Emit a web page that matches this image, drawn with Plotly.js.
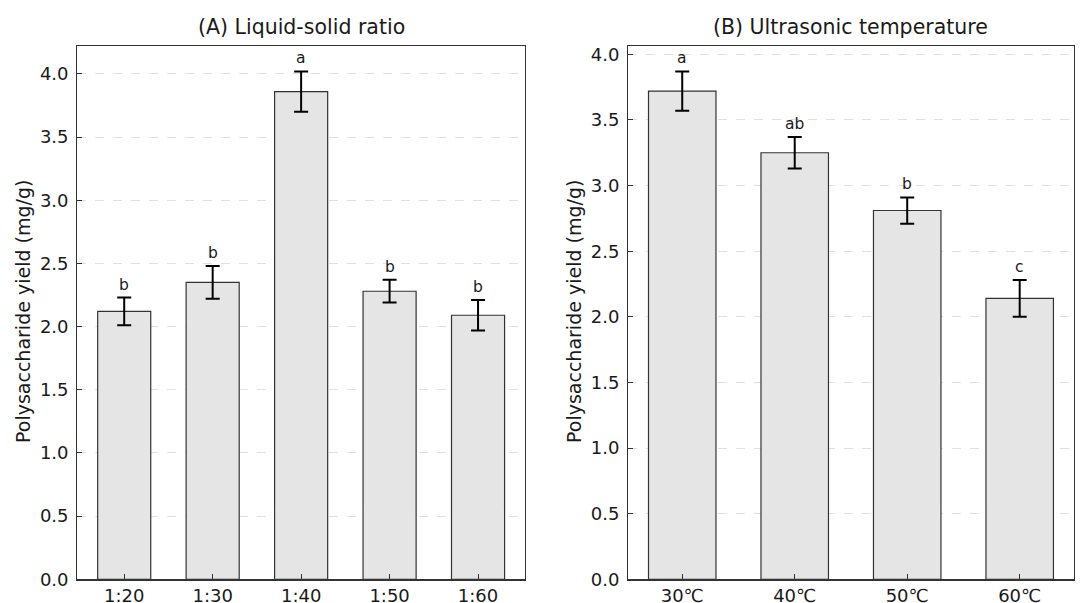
<!DOCTYPE html>
<html>
<head>
<meta charset="utf-8">
<script src="https://cdn.plot.ly/plotly-3.0.1.min.js"></script>
<style>html,body{margin:0;padding:0;background:#fff}#chart{width:1083px;height:603px}</style>
</head>
<body>
<div id="chart"></div>
<script>
const ratioCats = ["1:20", "1:30", "1:40", "1:50", "1:60"];
const ratioYield = [2.12, 2.35, 3.86, 2.28, 2.09];
const ratioErr = [0.11, 0.13, 0.16, 0.09, 0.12];
const ratioLetters = ["b", "b", "a", "b", "b"];

const tempCats = ["30℃", "40℃", "50℃", "60℃"];
const tempYield = [3.72, 3.25, 2.81, 2.14];
const tempErr = [0.15, 0.12, 0.10, 0.14];
const tempLetters = ["a", "ab", "b", "c"];

const yLabel = "Polysaccharide yield (mg/g)";
const titleA = "(A) Liquid-solid ratio";
const titleB = "(B) Ultrasonic temperature";

const FONT = "DejaVu Sans, sans-serif";
const TXT = "#1a1a1a";
const barStyle = {color: "#e5e5e5", line: {color: "#333333", width: 1.2}};
const errStyle = (arr) => ({type: "data", array: arr, visible: true, color: "#000", thickness: 2, width: 7});

const traces = [
  {type: "bar", x: ratioCats, y: ratioYield, error_y: errStyle(ratioErr), marker: barStyle, width: 0.6, xaxis: "x", yaxis: "y"},
  {type: "bar", x: tempCats, y: tempYield, error_y: errStyle(tempErr), marker: barStyle, width: 0.6, xaxis: "x2", yaxis: "y2"}
];

const ymaxA = Math.max(...ratioYield.map((v, i) => v + ratioErr[i])) * 1.05;
const ymaxB = Math.max(...tempYield.map((v, i) => v + tempErr[i])) * 1.05;

const annotations = [];
ratioCats.forEach((c, i) => annotations.push({x: c, y: ratioYield[i] + ratioErr[i], xref: "x", yref: "y", text: ratioLetters[i], showarrow: false, xanchor: "center", yanchor: "bottom", yshift: 2, font: {family: FONT, size: 15.5, color: TXT}}));
tempCats.forEach((c, i) => annotations.push({x: c, y: tempYield[i] + tempErr[i], xref: "x2", yref: "y2", text: tempLetters[i], showarrow: false, xanchor: "center", yanchor: "bottom", yshift: 2, font: {family: FONT, size: 15.5, color: TXT}}));
annotations.push({x: 0.2781, y: 1 - 27/603, xref: "paper", yref: "paper", text: titleA, showarrow: false, xanchor: "center", yanchor: "middle", font: {family: FONT, size: 20.5, color: TXT}});
annotations.push({x: 0.7857, y: 1 - 27/603, xref: "paper", yref: "paper", text: titleB, showarrow: false, xanchor: "center", yanchor: "middle", font: {family: FONT, size: 20.5, color: TXT}});
annotations.push({x: 23/1083, y: 0.5 - (312 - 301.5)/603, xref: "paper", yref: "paper", text: yLabel, textangle: -90, showarrow: false, xanchor: "center", yanchor: "middle", font: {family: FONT, size: 19, color: TXT}});
annotations.push({x: 574/1083, y: 0.5 - (312 - 301.5)/603, xref: "paper", yref: "paper", text: yLabel, textangle: -90, showarrow: false, xanchor: "center", yanchor: "middle", font: {family: FONT, size: 19, color: TXT}});

const xCommon = {
  showline: true, linecolor: "#333", linewidth: 1.2, mirror: true,
  ticks: "inside", ticklen: 5, tickwidth: 1, tickcolor: "#333",
  showgrid: false, zeroline: false, tickfont: {family: FONT, size: 18, color: TXT}, fixedrange: true
};
const yCommon = {
  showline: true, linecolor: "#333", linewidth: 1.2, mirror: true,
  ticks: "inside", ticklen: 5, tickwidth: 1, tickcolor: "#333",
  showgrid: true, gridcolor: "#e0e0e0", griddash: "dash", gridwidth: 1,
  zeroline: false, dtick: 0.5, tick0: 0, tickformat: ".1f",
  tickfont: {family: FONT, size: 18, color: TXT}, fixedrange: true, ticklabelstandoff: 4
};

const layout = {
  width: 1083, height: 603,
  margin: {l: 0, r: 0, t: 0, b: 0},
  paper_bgcolor: "#fff", plot_bgcolor: "#fff",
  showlegend: false,
  xaxis: Object.assign({}, xCommon, {domain: [0.0714, 0.4847], anchor: "y", range: [-0.53, 4.53]}),
  yaxis: Object.assign({}, yCommon, {domain: [0.0393, 0.9237], anchor: "x", range: [0, ymaxA]}),
  xaxis2: Object.assign({}, xCommon, {domain: [0.5801, 0.9914], anchor: "y2", range: [-0.48, 3.48]}),
  yaxis2: Object.assign({}, yCommon, {domain: [0.0393, 0.9237], anchor: "x2", range: [0, ymaxB]}),
  annotations: annotations
};

Plotly.newPlot("chart", traces, layout, {displayModeBar: false, staticPlot: true});
</script>
</body>
</html>
